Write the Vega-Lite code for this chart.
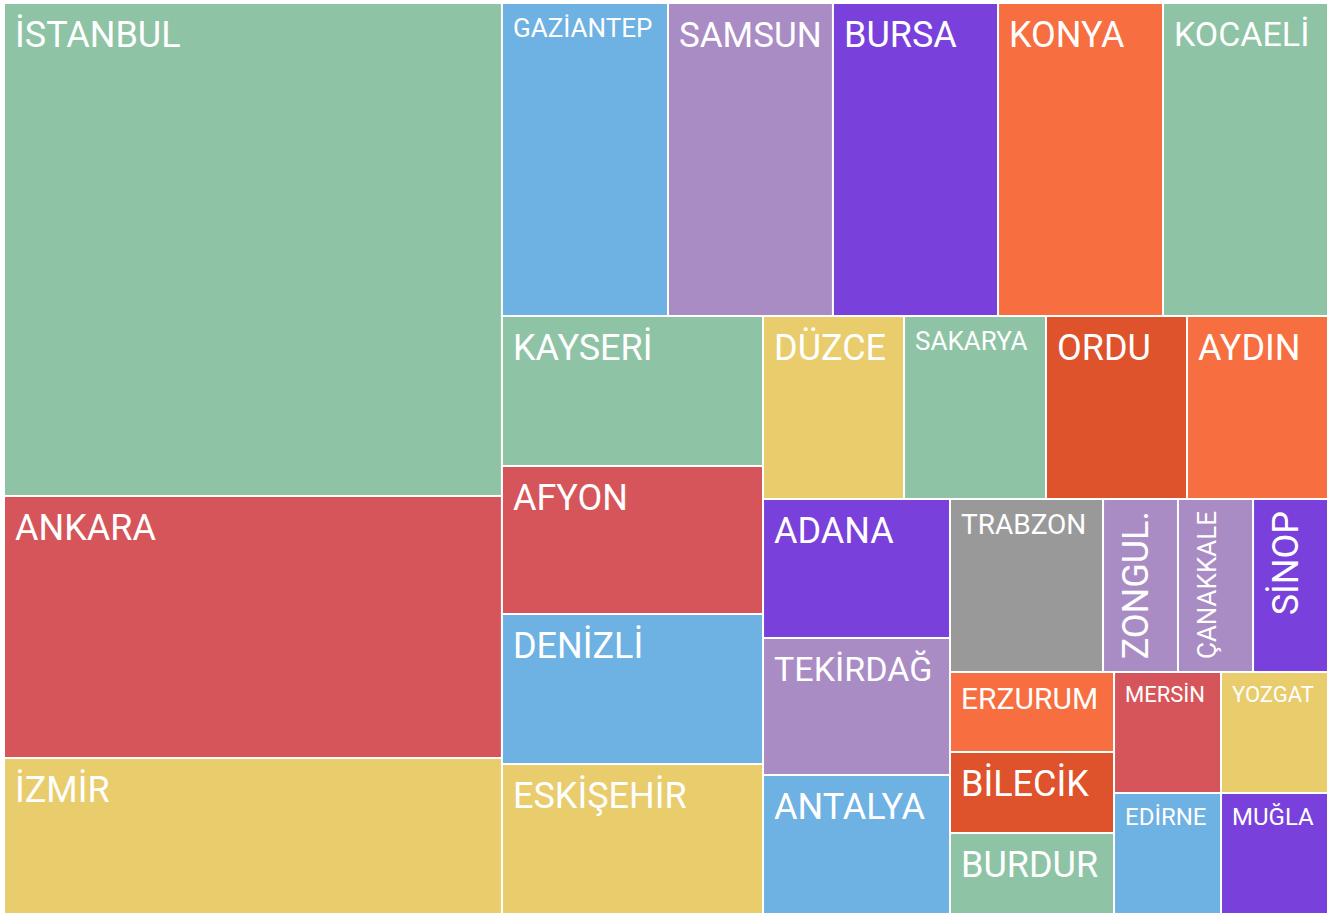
{
  "$schema": "https://vega.github.io/schema/vega-lite/v6.json",
  "width": 1324,
  "height": 911,
  "padding": {"left": 3, "top": 2, "right": 2, "bottom": 3},
  "background": "white",
  "config": {"view": {"stroke": null}},
  "data": {
    "values": [
      {"name": "İSTANBUL", "x0": 0, "x1": 37.61, "y0": 0, "y1": 54.12},
      {"name": "ANKARA", "x0": 0, "x1": 37.61, "y0": 54.12, "y1": 82.88},
      {"name": "İZMİR", "x0": 0, "x1": 37.61, "y0": 82.88, "y1": 100},
      {"name": "GAZİANTEP", "x0": 37.61, "x1": 50.15, "y0": 0, "y1": 34.36},
      {"name": "SAMSUN", "x0": 50.15, "x1": 62.61, "y0": 0, "y1": 34.36},
      {"name": "BURSA", "x0": 62.61, "x1": 75.08, "y0": 0, "y1": 34.36},
      {"name": "KONYA", "x0": 75.08, "x1": 87.54, "y0": 0, "y1": 34.36},
      {"name": "KOCAELİ", "x0": 87.54, "x1": 100, "y0": 0, "y1": 34.36},
      {"name": "KAYSERİ", "x0": 37.61, "x1": 57.33, "y0": 34.36, "y1": 50.82},
      {"name": "AFYON", "x0": 37.61, "x1": 57.33, "y0": 50.82, "y1": 67.07},
      {"name": "DENİZLİ", "x0": 37.61, "x1": 57.33, "y0": 67.07, "y1": 83.53},
      {"name": "ESKİŞEHİR", "x0": 37.61, "x1": 57.33, "y0": 83.53, "y1": 100},
      {"name": "DÜZCE", "x0": 57.33, "x1": 67.98, "y0": 34.36, "y1": 54.45},
      {"name": "SAKARYA", "x0": 67.98, "x1": 78.7, "y0": 34.36, "y1": 54.45},
      {"name": "ORDU", "x0": 78.7, "x1": 89.35, "y0": 34.36, "y1": 54.45},
      {"name": "AYDIN", "x0": 89.35, "x1": 100, "y0": 34.36, "y1": 54.45},
      {"name": "ADANA", "x0": 57.33, "x1": 71.45, "y0": 54.45, "y1": 69.7},
      {"name": "TEKİRDAĞ", "x0": 57.33, "x1": 71.45, "y0": 69.7, "y1": 84.74},
      {"name": "ANTALYA", "x0": 57.33, "x1": 71.45, "y0": 84.74, "y1": 100},
      {"name": "TRABZON", "x0": 71.45, "x1": 83.01, "y0": 54.45, "y1": 73.44},
      {"name": "ZONGUL.", "x0": 83.01, "x1": 88.67, "y0": 54.45, "y1": 73.44},
      {"name": "ÇANAKKALE", "x0": 88.67, "x1": 94.34, "y0": 54.45, "y1": 73.44},
      {"name": "SİNOP", "x0": 94.34, "x1": 100, "y0": 54.45, "y1": 73.44},
      {"name": "ERZURUM", "x0": 71.45, "x1": 83.84, "y0": 73.44, "y1": 82.22},
      {"name": "BİLECİK", "x0": 71.45, "x1": 83.84, "y0": 82.22, "y1": 91.11},
      {"name": "BURDUR", "x0": 71.45, "x1": 83.84, "y0": 91.11, "y1": 100},
      {"name": "MERSİN", "x0": 83.84, "x1": 91.92, "y0": 73.44, "y1": 86.72},
      {"name": "YOZGAT", "x0": 91.92, "x1": 100, "y0": 73.44, "y1": 86.72},
      {"name": "EDİRNE", "x0": 83.84, "x1": 91.92, "y0": 86.72, "y1": 100},
      {"name": "MUĞLA", "x0": 91.92, "x1": 100, "y0": 86.72, "y1": 100}
    ]
  },
  "encoding": {
    "x": {"field": "x0", "type": "quantitative", "scale": {"domain": [0, 100], "nice": false, "zero": false}, "axis": null},
    "y": {"field": "y0", "type": "quantitative", "scale": {"domain": [0, 100], "nice": false, "zero": false, "reverse": true}, "axis": null}
  },
  "layer": [
    {
      "mark": {"type": "rect", "stroke": "white", "strokeWidth": 2},
      "encoding": {
        "x2": {"field": "x1"},
        "y2": {"field": "y1"},
        "color": {
          "field": "name",
          "type": "nominal",
          "legend": null,
          "scale": {
            "domain": ["İSTANBUL","ANKARA","İZMİR","GAZİANTEP","SAMSUN","BURSA","KONYA","KOCAELİ","KAYSERİ","AFYON","DENİZLİ","ESKİŞEHİR","DÜZCE","SAKARYA","ORDU","AYDIN","ADANA","TEKİRDAĞ","ANTALYA","TRABZON","ZONGUL.","ÇANAKKALE","SİNOP","ERZURUM","BİLECİK","BURDUR","MERSİN","YOZGAT","EDİRNE","MUĞLA"],
            "range": ["#8EC3A5","#D6555A","#E9CC6C","#6EB1E3","#AA8CC5","#7A40DB","#F76E40","#8EC3A5","#8EC3A5","#D6555A","#6EB1E3","#E9CC6C","#E9CC6C","#8EC3A5","#DE522C","#F76E40","#7A40DB","#AA8CC5","#6EB1E3","#999999","#AA8CC5","#AA8CC5","#7A40DB","#F76E40","#DE522C","#8EC3A5","#D6555A","#E9CC6C","#6EB1E3","#7A40DB"]
          }
        }
      }
    },
    {
      "transform": [{"filter": {"field": "name", "oneOf": ["SAMSUN","KOCAELİ","TEKİRDAĞ","İSTANBUL","ANKARA","İZMİR","BURSA","KONYA","KAYSERİ","AFYON","DENİZLİ","ESKİŞEHİR","DÜZCE","ORDU","AYDIN","ADANA","ANTALYA","BİLECİK","BURDUR"]}}],
      "mark": {"type": "text", "align": "left", "baseline": "top", "dx": 11, "dy": 16, "color": "white", "font": "Roboto"},
      "encoding": {
        "text": {"field": "name"},
        "size": {
          "field": "name",
          "type": "ordinal",
          "legend": null,
          "scale": {
            "type": "ordinal",
            "domain": ["SAMSUN","KOCAELİ","TEKİRDAĞ","İSTANBUL","ANKARA","İZMİR","BURSA","KONYA","KAYSERİ","AFYON","DENİZLİ","ESKİŞEHİR","DÜZCE","ORDU","AYDIN","ADANA","ANTALYA","BİLECİK","BURDUR"],
            "range": [35,34,34,36,36,36,36,36,36,36,36,36,36,36,36,36,36,36,36]
          }
        }
      }
    },
    {
      "transform": [{"filter": {"field": "name", "oneOf": ["GAZİANTEP","SAKARYA","TRABZON","ERZURUM","MERSİN","YOZGAT","EDİRNE","MUĞLA"]}}],
      "mark": {"type": "text", "align": "left", "baseline": "top", "dx": 11, "dy": 13, "color": "white", "font": "Roboto"},
      "encoding": {
        "text": {"field": "name"},
        "size": {
          "field": "name",
          "type": "ordinal",
          "legend": null,
          "scale": {
            "type": "ordinal",
            "domain": ["GAZİANTEP","SAKARYA","TRABZON","ERZURUM","MERSİN","YOZGAT","EDİRNE","MUĞLA"],
            "range": [26,26,28,30,22,22,24,24]
          }
        }
      }
    },
    {
      "transform": [{"filter": {"field": "name", "oneOf": ["ZONGUL.", "ÇANAKKALE", "SİNOP"]}}],
      "mark": {"type": "text", "align": "right", "baseline": "top", "angle": 270, "dx": -12, "dy": 17, "color": "white", "font": "Roboto"},
      "encoding": {
        "text": {"field": "name"},
        "size": {
          "field": "name",
          "type": "ordinal",
          "legend": null,
          "scale": {"type": "ordinal", "domain": ["ZONGUL.", "ÇANAKKALE", "SİNOP"], "range": [36, 26, 36]}
        }
      }
    }
  ],
  "resolve": {"scale": {"size": "independent"}}
}
